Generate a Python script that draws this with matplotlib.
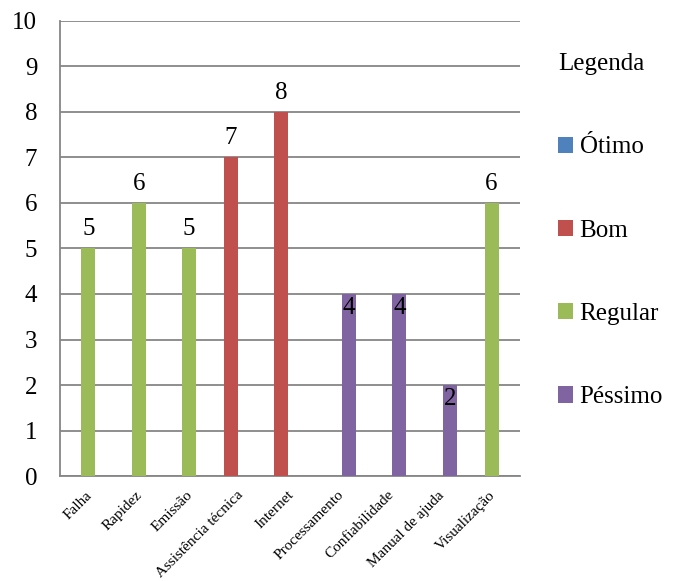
import matplotlib
matplotlib.use("Agg")
import matplotlib.pyplot as plt
import numpy as np

categories = ["Falha", "Rapidez", "Emissão", "Assistência técnica", "Internet",
              "Processamento", "Confiabilidade", "Manual de ajuda", "Visualização"]
series_names = ["Ótimo", "Bom", "Regular", "Péssimo"]
otimo = [0, 0, 0, 0, 0, 0, 0, 0, 0]
bom = [0, 0, 0, 7, 8, 0, 0, 0, 0]
regular = [5, 6, 5, 0, 0, 0, 0, 0, 6]
pessimo = [0, 0, 0, 0, 0, 4, 4, 2, 0]
y_ticks = [0, 1, 2, 3, 4, 5, 6, 7, 8, 9, 10]

colors = ["#4F81BD", "#C0504D", "#9BBB59", "#8064A2"]
offsets = [-0.34, -0.17, 0.0, 0.17]
label_inside = [False, False, False, True]

plt.rcParams['font.family'] = ['Liberation Serif', 'DejaVu Serif']

fig = plt.figure(figsize=(6.81, 5.81), dpi=100)
ax = fig.add_axes([0.0874, 0.1807, 0.6762, 0.7832])

x = np.arange(len(categories))
width = 0.278
all_series = [otimo, bom, regular, pessimo]
for vals, name, col, off, inside in zip(all_series, series_names, colors, offsets, label_inside):
    bars = ax.bar(x + off, vals, width=width, color=col, label=name, zorder=3)
    for b, v in zip(bars, vals):
        if v == 0:
            continue
        cx = b.get_x() + b.get_width() / 2
        if inside:
            ax.annotate(str(v), (cx, v), xytext=(0, -2), textcoords="offset points",
                        ha="center", va="top", fontsize=18, color="black", zorder=4)
        else:
            ax.annotate(str(v), (cx, v), xytext=(0, 6), textcoords="offset points",
                        ha="center", va="bottom", fontsize=18, color="black", zorder=4)

ax.set_xlim(-0.571, 8.565)
ax.set_ylim(0, 10)
ax.set_yticks(y_ticks)
ax.set_yticklabels([str(t) for t in y_ticks], fontsize=18)
ax.yaxis.grid(True, color="#868686", linewidth=1.3, zorder=0)
ax.set_axisbelow(True)
ax.tick_params(axis="y", length=0, pad=16)
ax.set_xticks(x - 0.06)
ax.set_xticklabels(categories, rotation=45, ha="right", rotation_mode="anchor", fontsize=11)
ax.tick_params(axis="x", length=0, pad=9)

for s in ["top", "right"]:
    ax.spines[s].set_visible(False)
for s in ["left", "bottom"]:
    ax.spines[s].set_color("#868686")
    ax.spines[s].set_linewidth(1.3)

leg = ax.legend(loc="upper left", bbox_to_anchor=(1.017, 0.995), frameon=False,
                title="Legenda", title_fontsize=18, fontsize=18,
                handlelength=0.62, handleheight=0.62, handletextpad=0.25,
                labelspacing=2.45, borderaxespad=0.8, alignment="left")

fig.savefig("out.png", dpi=100, facecolor="white")
